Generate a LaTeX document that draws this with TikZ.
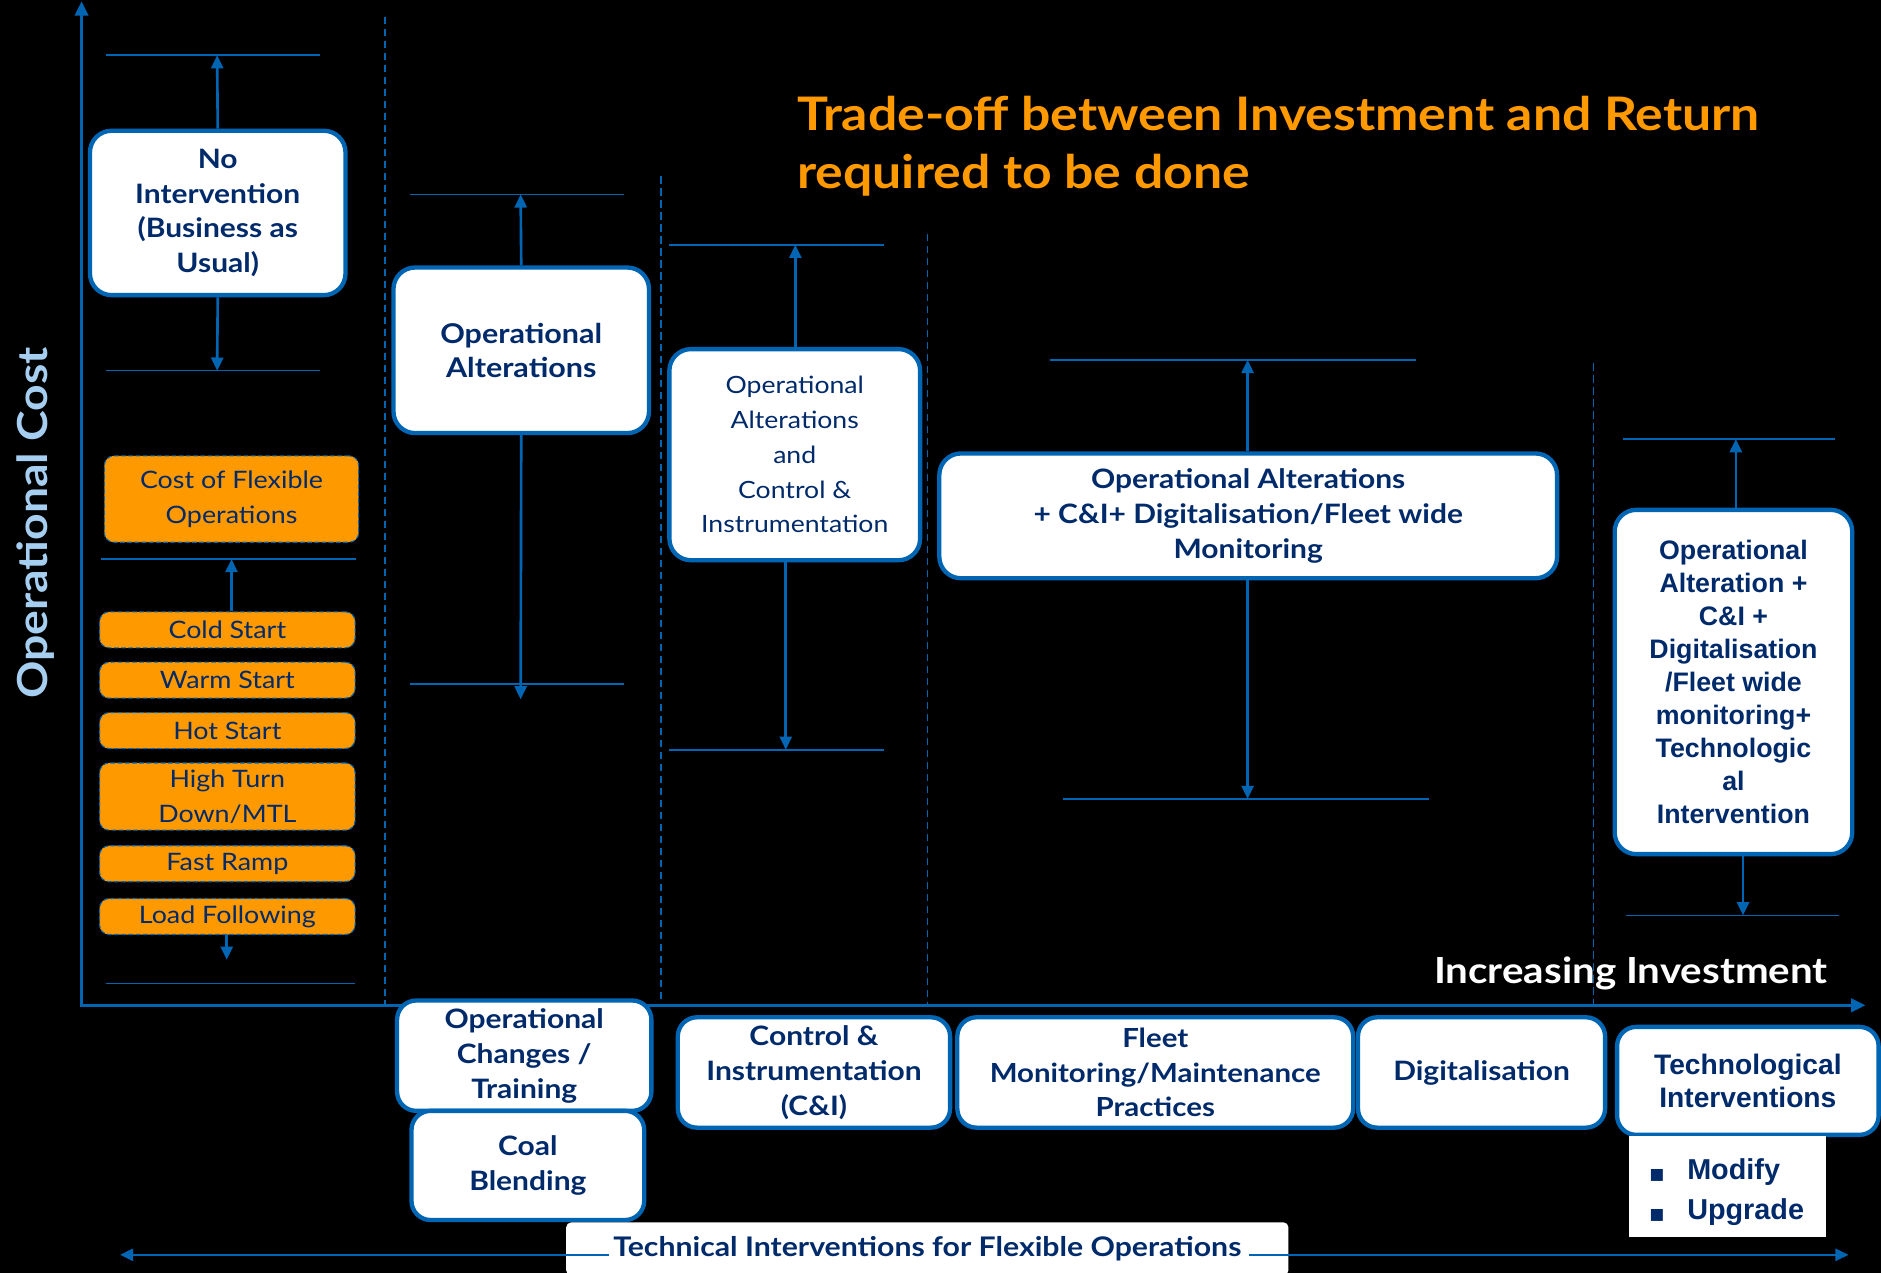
\documentclass[tikz,border=0pt]{standalone}
\usepackage{fontspec}
\setmainfont{Lato}[FakeStretch=1.12]
\newfontfamily\arialf{Liberation Sans}
\newfontfamily\symf{DejaVu Sans}
\usetikzlibrary{arrows.meta}
\definecolor{lineblue}{RGB}{0,102,180}
\definecolor{navy}{RGB}{0,42,106}
\definecolor{flexorange}{RGB}{255,153,0}
\definecolor{axislabel}{RGB}{166,206,240}

\begin{document}
\begin{tikzpicture}[x=1pt,y=-1pt,
  axisline/.style={line width=2.6pt, draw=lineblue},
  axisarrow/.style={axisline, -{Triangle[length=12pt,width=11pt]}},
  arr/.style={line width=2.2pt, draw=lineblue, -{Triangle[length=11pt,width=10pt]}},
  limitline/.style={line width=1.3pt, draw=lineblue},
  sepline/.style={line width=1pt, draw=lineblue, dash pattern=on 6pt off 4pt},
  optbox/.style={draw=lineblue, line width=3.6pt, fill=white, rounded corners=18pt,
    text=navy, align=center, inner sep=0pt},
  flexbox/.style={draw=lineblue, line width=0.9pt, dash pattern=on 4pt off 2pt,
    fill=flexorange, rounded corners=8pt, text=navy, align=center, inner sep=0pt,
    minimum width=213pt, font=\fontsize{20}{29}\selectfont},
  catbox/.style={draw=lineblue, line width=3.6pt, fill=white, rounded corners=16pt,
    text=navy, align=center, inner sep=0pt},
  boldtxt/.style={font=\fontsize{22.3}{29}\selectfont\bfseries},
  plaintxt/.style={font=\fontsize{19.8}{29}\selectfont},
  arialtxt/.style={font=\arialf\fontsize{22.3}{27.5}\selectfont\bfseries},
]
% background
\fill[black] (0,0) rectangle (1568,1061);
\useasboundingbox (0,0) rectangle (1568,1061);

% column separators
\draw[sepline] (321,14) -- (321,838);
\draw[sepline] (551,147) -- (551,838);
\draw[sepline] (773,195) -- (773,838);
\draw[sepline] (1328,303) -- (1328,838);

% cost range limits
\draw[limitline] (88,46) -- (267,46);
\draw[limitline] (88,309) -- (267,309);
\draw[limitline] (84,466) -- (297,466);
\draw[limitline] (88,820) -- (296,820);
\draw[limitline] (342,162) -- (520,162);
\draw[limitline] (342,570) -- (520,570);
\draw[limitline] (558,204) -- (737,204);
\draw[limitline] (558,625) -- (737,625);
\draw[limitline] (875,300) -- (1180,300);
\draw[limitline] (886,666) -- (1191,666);
\draw[limitline] (1353,366) -- (1530,366);
\draw[limitline] (1355,763) -- (1533,763);

\coordinate (n1top) at (181,46);
\coordinate (n1bot) at (181,309);
\coordinate (flexup) at (193,466);
\coordinate (flexdown) at (189,800);
\coordinate (n2top) at (434,162);
\coordinate (n2bot) at (434,583);
\coordinate (n3top) at (663,204);
\coordinate (n3bot) at (655,625);
\coordinate (n4top) at (1040,300);
\coordinate (n4bot) at (1040,666);
\coordinate (n5top) at (1447,366);
\coordinate (n5bot) at (1453,763);

% scenario boxes
\node[optbox, boldtxt, minimum width=213pt, minimum height=137pt] (noint) at (181.5,177.5)
  {No\\Intervention\\(Business as\\Usual)};
\node[optbox, font=\fontsize{22.7}{28}\selectfont\bfseries, minimum width=213pt, minimum height=138pt] (opalt) at (434.5,292)
  {Operational\\Alterations};
\node[optbox, plaintxt, minimum width=209pt, minimum height=176pt] (opci) at (662.5,379)
  {Operational\\Alterations\\and\\Control \&\\Instrumentation};
\node[optbox, boldtxt, minimum width=515pt, minimum height=104pt] (opdig) at (1040.5,430)
  {Operational Alterations\\+ C\&I+ Digitalisation/Fleet wide\\Monitoring};
\node[optbox, arialtxt, minimum width=198pt, minimum height=287pt] (optech) at (1445,568.5)
  {Operational\\Alteration +\\C\&I +\\Digitalisation\\/Fleet wide\\monitoring+\\Technologic\\al\\Intervention};

% flexible operation cost items
\node[flexbox, minimum width=212pt, minimum height=72pt] (flexcost) at (193,416) {Cost of Flexible\\Operations};
\node[flexbox, minimum height=30pt] (cold) at (189.5,525) {Cold Start};
\node[flexbox, minimum height=30pt] (warm) at (189.5,567) {Warm Start};
\node[flexbox, minimum height=30pt] (hot) at (189.5,609) {Hot Start};
\node[flexbox, minimum height=56pt] (turn) at (189.5,664) {High Turn\\Down/MTL};
\node[flexbox, minimum height=30pt] (ramp) at (189.5,720) {Fast Ramp};
\node[flexbox, minimum height=30pt] (load) at (189.5,764) {Load Following};

% range arrows
\draw[arr] (noint.north) -- (n1top);
\draw[arr] (noint.south) -- (n1bot);
\draw[arr] ([xshift=3.5pt]cold.north) -- (flexup);
\draw[arr] ([xshift=-0.5pt]load.south) -- (flexdown);
\draw[arr] (opalt.north) -- (n2top);
\draw[arr] (opalt.south) -- (n2bot);
\draw[arr] ([xshift=0.5pt]opci.north) -- (n3top);
\draw[arr] ([xshift=-7.5pt]opci.south) -- (n3bot);
\draw[arr] ([xshift=-0.5pt]opdig.north) -- (n4top);
\draw[arr] ([xshift=-0.5pt]opdig.south) -- (n4bot);
\draw[arr] ([xshift=2pt]optech.north) -- (n5top);
\draw[arr] ([xshift=8pt]optech.south) -- (n5bot);

% axes
\coordinate (origin) at (68,838);
\coordinate (ytip) at (68,1);
\coordinate (xtip) at (1555,838);
\draw[axisarrow] (origin) -- (ytip);
\draw[axisarrow] ([xshift=-1.3pt]origin) -- (xtip);

\node[text=axislabel, rotate=90, font=\fontsize{34.5}{36}\selectfont\bfseries] (ylab) at (30,436) {Operational Cost};
\node[text=white, anchor=east, font=\fontsize{30}{32}\selectfont\bfseries] (xlab) at (1527,811) {Increasing Investment};
\node[text=flexorange, anchor=west, align=left, font=\fontsize{38.5}{48}\selectfont\bfseries] (title) at (661,122)
  {Trade-off between Investment and Return\\required to be done};

% intervention categories along the investment axis
\node[catbox, boldtxt, minimum width=212pt, minimum height=92pt] (opchg) at (437,880) {Operational\\Changes /\\Training};
\node[catbox, boldtxt, minimum width=194pt, minimum height=91pt] (coal) at (440,971.5) {Coal\\Blending};
\node[catbox, boldtxt, minimum width=227pt, minimum height=92pt] (ci) at (678.5,894) {Control \&\\Instrumentation\\(C\&I)};
\node[catbox, boldtxt, font=\fontsize{21.9}{29}\selectfont\bfseries, minimum width=330pt, minimum height=92pt] (fleet) at (963,894) {Fleet\\Monitoring/Maintenance\\Practices};
\node[catbox, boldtxt, minimum width=206pt, minimum height=92pt] (digi) at (1235,894) {Digitalisation};
\node[catbox, font=\arialf\fontsize{23.5}{28}\selectfont\bfseries, minimum width=218pt, minimum height=90pt] (tech) at (1457,901) {Technological\\Interventions};
\node[fill=white, text=navy, anchor=north west, minimum width=164pt, minimum height=84pt, inner sep=0pt,
  font=\arialf\fontsize{24}{33}\selectfont\bfseries, align=left, text width=164pt] (techopts) at (1358,947)
  {\rule{0pt}{26pt}\hspace*{17pt}{\symf\fontsize{13}{33}\selectfont ■}\hspace{19pt}Modify\\\hspace*{17pt}{\symf\fontsize{13}{33}\selectfont ■}\hspace{19pt}Upgrade};

% technical interventions span
\coordinate (spanleft) at (100,1046);
\coordinate (spanright) at (1541,1046);
\node[fill=white, text=navy, rounded corners=4pt, minimum width=602pt, minimum height=44pt, inner sep=0pt,
  font=\fontsize{22.5}{24}\selectfont\bfseries] (span) at (773,1041) {Technical Interventions for Flexible Operations};
\draw[arr] ([xshift=36pt,yshift=-5pt]span.west) -- (spanleft);
\draw[arr] ([xshift=-33pt,yshift=-5pt]span.east) -- (spanright);
\end{tikzpicture}
\end{document}
